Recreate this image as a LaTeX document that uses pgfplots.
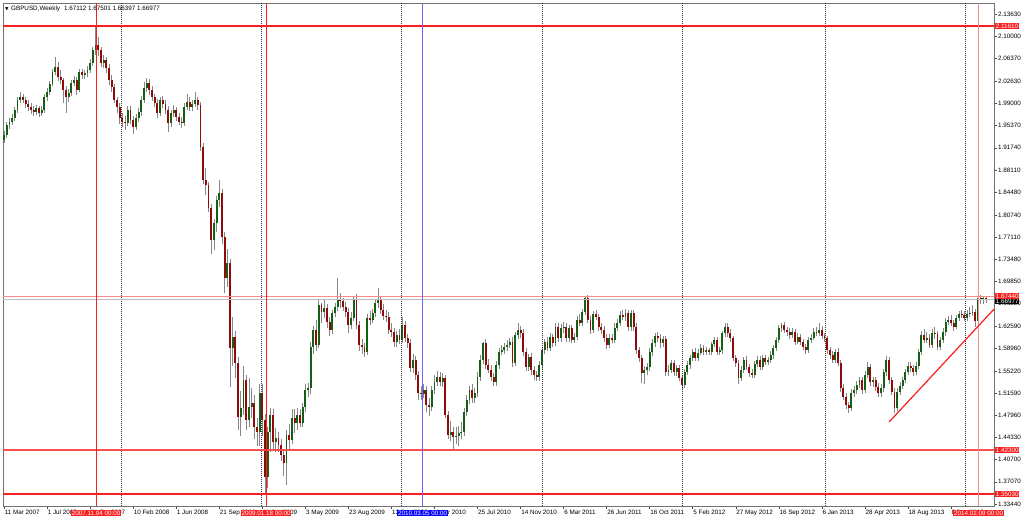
\documentclass[border=0pt]{standalone}
\usepackage{fontspec}
\setmainfont{Liberation Sans}
\newfontfamily\symfont{DejaVu Sans}
\usepackage{pgfplots}
\usepackage{pgfplotstable}
\pgfplotsset{compat=1.18}

\definecolor{upc}{RGB}{20,95,20}
\definecolor{dnc}{RGB}{145,10,10}
\definecolor{wickc}{RGB}{135,135,135}
\definecolor{hl}{RGB}{250,30,30}
\definecolor{hlmid}{RGB}{250,80,80}
\definecolor{hlsoft}{RGB}{250,140,140}
\definecolor{vblue}{RGB}{105,105,255}
\newcommand\cf{\fontsize{6.3}{7}\selectfont}

% GBPUSD weekly: week index, open, high, low, close
\pgfplotstableread{
w o h l c
0 1.930 1.945 1.925 1.938
1 1.938 1.960 1.934 1.955
2 1.955 1.966 1.948 1.960
3 1.960 1.972 1.954 1.966
4 1.966 1.984 1.961 1.979
5 1.979 2.001 1.975 1.996
6 1.996 2.008 1.990 2.000
7 2.000 2.006 1.990 1.996
8 1.996 2.001 1.983 1.989
9 1.989 1.995 1.977 1.984
10 1.984 1.990 1.972 1.979
11 1.979 1.986 1.970 1.976
12 1.976 1.988 1.971 1.982
13 1.982 1.986 1.968 1.974
14 1.974 1.985 1.969 1.979
15 1.979 2.005 1.975 2.000
16 2.000 2.015 1.994 2.009
17 2.009 2.027 2.003 2.022
18 2.022 2.046 2.018 2.041
19 2.041 2.066 2.036 2.050
20 2.050 2.058 2.027 2.033
21 2.033 2.044 2.022 2.028
22 2.028 2.032 1.990 2.012
23 2.012 2.018 1.975 2.000
24 2.000 2.013 1.993 2.007
25 2.007 2.029 2.002 2.023
26 2.023 2.035 2.018 2.028
27 2.028 2.033 2.003 2.012
28 2.012 2.046 2.008 2.041
29 2.041 2.047 2.030 2.037
30 2.037 2.045 2.030 2.040
31 2.040 2.051 2.034 2.045
32 2.045 2.062 2.040 2.056
33 2.056 2.082 2.051 2.077
34 2.077 2.116 2.070 2.086
35 2.086 2.098 2.068 2.077
36 2.077 2.083 2.050 2.056
37 2.056 2.070 2.048 2.061
38 2.061 2.066 2.040 2.048
39 2.048 2.055 2.020 2.028
40 2.028 2.036 2.008 2.017
41 2.017 2.022 1.990 1.996
42 1.996 2.000 1.975 1.984
43 1.984 1.990 1.956 1.966
44 1.966 1.975 1.952 1.960
45 1.960 1.969 1.947 1.958
46 1.958 1.985 1.953 1.979
47 1.979 1.985 1.956 1.963
48 1.963 1.970 1.940 1.951
49 1.951 1.972 1.946 1.966
50 1.966 1.982 1.960 1.976
51 1.976 2.002 1.970 1.996
52 1.996 2.025 1.990 2.015
53 2.015 2.032 2.008 2.023
54 2.023 2.030 2.004 2.012
55 2.012 2.018 1.994 2.000
56 2.000 2.006 1.984 1.991
57 1.991 1.997 1.966 1.974
58 1.974 2.001 1.969 1.996
59 1.996 2.002 1.982 1.989
60 1.989 1.995 1.972 1.979
61 1.979 1.985 1.944 1.958
62 1.958 1.980 1.952 1.974
63 1.974 1.987 1.968 1.979
64 1.979 1.984 1.962 1.968
65 1.968 1.975 1.954 1.960
66 1.960 1.968 1.950 1.958
67 1.958 1.990 1.953 1.984
68 1.984 2.005 1.979 1.992
69 1.992 2.000 1.978 1.984
70 1.984 1.995 1.977 1.989
71 1.989 2.008 1.984 1.996
72 1.996 2.000 1.980 1.987
73 1.987 1.992 1.912 1.919
74 1.919 1.925 1.858 1.865
75 1.865 1.885 1.840 1.856
76 1.856 1.862 1.812 1.819
77 1.819 1.825 1.744 1.766
78 1.766 1.800 1.750 1.794
79 1.794 1.838 1.780 1.832
80 1.832 1.865 1.820 1.843
81 1.843 1.850 1.760 1.771
82 1.771 1.780 1.680 1.704
83 1.704 1.752 1.690 1.729
84 1.729 1.736 1.526 1.590
85 1.590 1.640 1.560 1.608
86 1.608 1.618 1.540 1.565
87 1.565 1.575 1.455 1.477
88 1.477 1.520 1.445 1.492
89 1.492 1.560 1.480 1.537
90 1.537 1.545 1.455 1.472
91 1.472 1.540 1.460 1.493
92 1.493 1.525 1.475 1.500
93 1.500 1.512 1.440 1.460
94 1.460 1.475 1.430 1.452
95 1.452 1.530 1.430 1.516
96 1.516 1.530 1.445 1.472
97 1.472 1.482 1.350 1.379
98 1.379 1.460 1.360 1.452
99 1.452 1.492 1.420 1.480
100 1.480 1.490 1.425 1.436
101 1.436 1.458 1.420 1.442
102 1.442 1.452 1.420 1.431
103 1.431 1.440 1.405 1.415
104 1.415 1.425 1.380 1.402
105 1.402 1.455 1.366 1.447
106 1.447 1.465 1.425 1.439
107 1.439 1.490 1.432 1.475
108 1.475 1.490 1.450 1.467
109 1.467 1.492 1.455 1.480
110 1.480 1.490 1.460 1.467
111 1.467 1.500 1.460 1.493
112 1.493 1.530 1.485 1.521
113 1.521 1.532 1.510 1.524
114 1.524 1.600 1.515 1.591
115 1.591 1.626 1.580 1.619
116 1.619 1.636 1.585 1.595
117 1.595 1.668 1.590 1.660
118 1.660 1.663 1.630 1.649
119 1.649 1.668 1.638 1.655
120 1.655 1.662 1.622 1.632
121 1.632 1.640 1.610 1.619
122 1.619 1.652 1.612 1.647
123 1.647 1.664 1.640 1.657
124 1.657 1.704 1.650 1.668
125 1.668 1.680 1.655 1.666
126 1.666 1.672 1.650 1.657
127 1.657 1.665 1.640 1.649
128 1.649 1.655 1.615 1.627
129 1.627 1.648 1.620 1.639
130 1.639 1.675 1.634 1.668
131 1.668 1.678 1.620 1.627
132 1.627 1.634 1.585 1.595
133 1.595 1.604 1.580 1.591
134 1.591 1.598 1.575 1.583
135 1.583 1.645 1.578 1.639
136 1.639 1.650 1.628 1.636
137 1.636 1.654 1.630 1.647
138 1.647 1.670 1.640 1.663
139 1.663 1.688 1.655 1.668
140 1.668 1.675 1.645 1.652
141 1.652 1.662 1.635 1.642
142 1.642 1.652 1.632 1.641
143 1.641 1.648 1.612 1.619
144 1.619 1.630 1.608 1.616
145 1.616 1.622 1.592 1.600
146 1.600 1.618 1.592 1.611
147 1.611 1.620 1.596 1.603
148 1.603 1.640 1.598 1.627
149 1.627 1.634 1.600 1.606
150 1.606 1.612 1.590 1.598
151 1.598 1.605 1.550 1.557
152 1.557 1.580 1.548 1.570
153 1.570 1.576 1.538 1.546
154 1.546 1.552 1.505 1.516
155 1.516 1.528 1.505 1.514
156 1.514 1.530 1.508 1.521
157 1.521 1.528 1.485 1.496
158 1.496 1.508 1.478 1.493
159 1.493 1.528 1.486 1.521
160 1.521 1.545 1.515 1.534
161 1.534 1.552 1.528 1.542
162 1.542 1.550 1.528 1.534
163 1.534 1.548 1.526 1.541
164 1.541 1.546 1.475 1.480
165 1.480 1.486 1.440 1.447
166 1.447 1.470 1.437 1.452
167 1.452 1.460 1.423 1.444
168 1.444 1.460 1.432 1.446
169 1.446 1.462 1.430 1.451
170 1.451 1.468 1.440 1.452
171 1.452 1.492 1.446 1.485
172 1.485 1.512 1.478 1.505
173 1.505 1.528 1.498 1.521
174 1.521 1.530 1.500 1.508
175 1.508 1.524 1.500 1.516
176 1.516 1.550 1.510 1.542
177 1.542 1.578 1.535 1.570
178 1.570 1.600 1.564 1.598
179 1.598 1.604 1.555 1.562
180 1.562 1.572 1.548 1.554
181 1.554 1.562 1.536 1.542
182 1.542 1.548 1.528 1.534
183 1.534 1.568 1.528 1.562
184 1.562 1.590 1.556 1.583
185 1.583 1.594 1.578 1.586
186 1.586 1.598 1.580 1.591
187 1.591 1.602 1.584 1.595
188 1.595 1.606 1.590 1.600
189 1.600 1.608 1.558 1.565
190 1.565 1.616 1.560 1.611
191 1.611 1.630 1.605 1.619
192 1.619 1.625 1.606 1.614
193 1.614 1.620 1.576 1.583
194 1.583 1.590 1.552 1.559
195 1.559 1.580 1.552 1.575
196 1.575 1.582 1.546 1.554
197 1.554 1.560 1.538 1.546
198 1.546 1.552 1.536 1.542
199 1.542 1.568 1.536 1.562
200 1.562 1.592 1.556 1.586
201 1.586 1.605 1.580 1.600
202 1.600 1.608 1.584 1.590
203 1.590 1.614 1.585 1.608
204 1.608 1.612 1.592 1.598
205 1.598 1.630 1.593 1.624
206 1.624 1.630 1.600 1.606
207 1.606 1.629 1.600 1.623
208 1.623 1.632 1.614 1.624
209 1.624 1.630 1.600 1.606
210 1.606 1.628 1.600 1.623
211 1.623 1.628 1.598 1.603
212 1.603 1.614 1.598 1.608
213 1.608 1.642 1.602 1.636
214 1.636 1.645 1.626 1.631
215 1.631 1.654 1.626 1.649
216 1.649 1.674 1.643 1.672
217 1.672 1.676 1.630 1.636
218 1.636 1.642 1.612 1.619
219 1.619 1.650 1.614 1.645
220 1.645 1.652 1.636 1.641
221 1.641 1.646 1.618 1.624
222 1.624 1.630 1.612 1.619
223 1.619 1.625 1.600 1.606
224 1.606 1.612 1.588 1.595
225 1.595 1.612 1.590 1.606
226 1.606 1.612 1.598 1.603
227 1.603 1.630 1.598 1.623
228 1.623 1.637 1.618 1.631
229 1.631 1.650 1.626 1.644
230 1.644 1.652 1.636 1.641
231 1.641 1.654 1.634 1.647
232 1.647 1.652 1.618 1.624
233 1.624 1.652 1.618 1.647
234 1.647 1.652 1.618 1.624
235 1.624 1.630 1.580 1.586
236 1.586 1.592 1.566 1.573
237 1.573 1.578 1.532 1.549
238 1.549 1.560 1.530 1.554
239 1.554 1.565 1.545 1.559
240 1.559 1.590 1.552 1.583
241 1.583 1.604 1.576 1.598
242 1.598 1.614 1.592 1.609
243 1.609 1.616 1.600 1.606
244 1.606 1.612 1.590 1.598
245 1.598 1.610 1.592 1.604
246 1.604 1.610 1.544 1.550
247 1.550 1.562 1.544 1.554
248 1.554 1.570 1.548 1.565
249 1.565 1.570 1.544 1.550
250 1.550 1.562 1.544 1.557
251 1.557 1.562 1.535 1.541
252 1.541 1.546 1.521 1.529
253 1.529 1.556 1.524 1.550
254 1.550 1.568 1.545 1.562
255 1.562 1.578 1.556 1.573
256 1.573 1.588 1.568 1.583
257 1.583 1.590 1.568 1.573
258 1.573 1.588 1.568 1.582
259 1.582 1.596 1.578 1.590
260 1.590 1.594 1.578 1.583
261 1.583 1.592 1.578 1.586
262 1.586 1.590 1.578 1.583
263 1.583 1.600 1.578 1.596
264 1.596 1.608 1.592 1.603
265 1.603 1.608 1.578 1.583
266 1.583 1.592 1.578 1.586
267 1.586 1.618 1.580 1.614
268 1.614 1.630 1.608 1.624
269 1.624 1.630 1.608 1.614
270 1.614 1.620 1.600 1.606
271 1.606 1.610 1.568 1.573
272 1.573 1.578 1.558 1.565
273 1.565 1.570 1.530 1.541
274 1.541 1.560 1.536 1.554
275 1.554 1.575 1.548 1.570
276 1.570 1.576 1.554 1.559
277 1.559 1.564 1.543 1.549
278 1.549 1.555 1.540 1.546
279 1.546 1.568 1.540 1.564
280 1.564 1.576 1.558 1.570
281 1.570 1.576 1.553 1.559
282 1.559 1.578 1.554 1.573
283 1.573 1.578 1.562 1.567
284 1.567 1.575 1.562 1.570
285 1.570 1.584 1.565 1.578
286 1.578 1.594 1.572 1.590
287 1.590 1.608 1.585 1.603
288 1.603 1.627 1.598 1.623
289 1.623 1.631 1.616 1.627
290 1.627 1.632 1.614 1.619
291 1.619 1.624 1.610 1.616
292 1.616 1.622 1.605 1.611
293 1.611 1.622 1.606 1.616
294 1.616 1.620 1.594 1.600
295 1.600 1.614 1.596 1.608
296 1.608 1.612 1.595 1.600
297 1.600 1.605 1.586 1.591
298 1.591 1.596 1.580 1.586
299 1.586 1.608 1.582 1.603
300 1.603 1.612 1.598 1.606
301 1.606 1.622 1.602 1.616
302 1.616 1.624 1.610 1.614
303 1.614 1.630 1.610 1.619
304 1.619 1.625 1.604 1.609
305 1.609 1.614 1.600 1.606
306 1.606 1.610 1.580 1.586
307 1.586 1.592 1.572 1.578
308 1.578 1.584 1.565 1.570
309 1.570 1.588 1.565 1.583
310 1.583 1.590 1.560 1.565
311 1.565 1.570 1.518 1.524
312 1.524 1.530 1.505 1.510
313 1.510 1.516 1.490 1.496
314 1.496 1.502 1.483 1.492
315 1.492 1.522 1.486 1.516
316 1.516 1.528 1.510 1.521
317 1.521 1.535 1.515 1.529
318 1.529 1.542 1.524 1.537
319 1.537 1.543 1.515 1.521
320 1.521 1.552 1.516 1.546
321 1.546 1.566 1.540 1.559
322 1.559 1.563 1.528 1.534
323 1.534 1.542 1.526 1.537
324 1.537 1.542 1.520 1.526
325 1.526 1.532 1.510 1.516
326 1.516 1.530 1.510 1.524
327 1.524 1.556 1.518 1.550
328 1.550 1.576 1.544 1.570
329 1.570 1.575 1.530 1.537
330 1.537 1.542 1.512 1.518
331 1.518 1.524 1.483 1.492
332 1.492 1.524 1.486 1.518
333 1.518 1.534 1.512 1.528
334 1.528 1.542 1.522 1.537
335 1.537 1.556 1.532 1.550
336 1.550 1.566 1.545 1.560
337 1.560 1.566 1.550 1.557
338 1.557 1.562 1.544 1.550
339 1.550 1.566 1.545 1.560
340 1.560 1.588 1.555 1.583
341 1.583 1.618 1.578 1.611
342 1.611 1.620 1.598 1.603
343 1.603 1.616 1.598 1.606
344 1.606 1.612 1.590 1.595
345 1.595 1.620 1.590 1.614
346 1.614 1.624 1.605 1.613
347 1.613 1.618 1.586 1.591
348 1.591 1.608 1.586 1.603
349 1.603 1.622 1.598 1.616
350 1.616 1.638 1.610 1.632
351 1.632 1.642 1.628 1.636
352 1.636 1.644 1.626 1.631
353 1.631 1.636 1.618 1.624
354 1.624 1.644 1.620 1.639
355 1.639 1.650 1.634 1.645
356 1.645 1.652 1.638 1.644
357 1.644 1.650 1.634 1.639
358 1.639 1.652 1.634 1.645
359 1.645 1.656 1.640 1.647
360 1.647 1.660 1.642 1.649
361 1.649 1.654 1.624 1.634
362 1.634 1.676 1.630 1.672
363 1.672 1.676 1.662 1.668
364 1.668 1.675 1.662 1.671
365 1.671 1.675 1.664 1.670
}\gbp

\begin{document}
\begin{tikzpicture}
\begin{axis}[
  name=main,
  scale only axis, width=991pt, height=503pt,
  xmin=-0.4, xmax=368, ymin=1.3311, ymax=2.1543,
  clip mode=individual,
  axis line style={draw=black!55, line width=0.9pt},
  tick style={black!70, line width=0.5pt},
  tick align=outside, major tick length=3pt,
  xtick pos=bottom, ytick pos=right, yticklabel pos=right,
  xtick={0,16,...,352},
  xticklabels={11 Mar 2007, 1 Jul 2007, 21 Oct 2007, 10 Feb 2008, 1 Jun 2008, 21 Sep 2008, 11 Jan 2009, 3 May 2009, 23 Aug 2009, 13 Dec 2009, 4 Apr 2010, 25 Jul 2010, 14 Nov 2010, 6 Mar 2011, 26 Jun 2011, 16 Oct 2011, 5 Feb 2012, 27 May 2012, 16 Sep 2012, 6 Jan 2013, 28 Apr 2013, 18 Aug 2013, 8 Dec 2013},
  xticklabel style={font=\cf, anchor=north west, inner sep=0pt, xshift=0.5pt, yshift=-1pt},
  ytick={1.33440,1.37070,1.40700,1.44330,1.47960,1.51590,1.55220,1.58960,1.62590,1.66220,1.69850,1.73480,1.77110,1.80740,1.84480,1.88110,1.91740,1.95370,1.99000,2.02630,2.06370,2.10000,2.13630},
  yticklabel style={font=\cf, inner sep=0pt, xshift=1pt,
    /pgf/number format/.cd, fixed, fixed zerofill, precision=5, assume math mode=true},
  scaled y ticks=false,
]
% wicks
\addplot [draw=none, mark=none, forget plot,
  error bars/.cd, y dir=plus, y explicit, error mark=none,
  error bar style={draw=wickc, line width=0.7pt}]
  table [x=w, y=l, y error expr={\thisrow{h}-\thisrow{l}}] {\gbp};
% bullish bodies
\addplot [draw=none, mark=none, forget plot,
  error bars/.cd, y dir=plus, y explicit, error mark=none,
  error bar style={draw=upc, line width=1.9pt}]
  table [x=w, y expr={\thisrow{c}>=\thisrow{o} ? \thisrow{o} : nan},
         y error expr={\thisrow{c}-\thisrow{o}}] {\gbp};
% bearish bodies
\addplot [draw=none, mark=none, forget plot,
  error bars/.cd, y dir=plus, y explicit, error mark=none,
  error bar style={draw=dnc, line width=1.9pt}]
  table [x=w, y expr={\thisrow{c}<\thisrow{o} ? \thisrow{c} : nan},
         y error expr={\thisrow{o}-\thisrow{c}}] {\gbp};

% year separators
\foreach \s in {43.5,95.5,147.6,200,252,305.2,357.2}{
  \edef\tmp{\noexpand\addplot [black!80, line width=0.6pt, dash pattern=on 1pt off 1pt, forget plot] coordinates {(\s,1.3311) (\s,2.1543)};}
  \tmp
}
% horizontal levels
\addplot [draw=hl, line width=1.8pt] coordinates {(-0.4,2.1161) (368,2.1161)};
\addplot [draw=black!25, line width=0.8pt] coordinates {(-0.4,1.66977) (368,1.66977)};
\addplot [draw=hlsoft, line width=1.3pt] coordinates {(-0.4,1.6744) (368,1.6744)};
\addplot [draw=hlmid, line width=1.3pt] coordinates {(-0.4,1.4230) (368,1.4230)};
\addplot [draw=hl, line width=1.8pt] coordinates {(-0.4,1.3503) (368,1.3503)};
% vertical markers
\addplot [draw=hl, line width=0.9pt] coordinates {(34.2,1.3311) (34.2,2.1543)};
\addplot [draw=hl, line width=0.9pt] coordinates {(97.4,1.3311) (97.4,2.1543)};
\addplot [draw=vblue, line width=1.4pt] coordinates {(155.6,1.3311) (155.6,2.1543)};
\addplot [draw=hlsoft, line width=1.1pt] coordinates {(362.3,1.3311) (362.3,2.1543)};
% trend line
\addplot [draw=hl, line width=1.2pt] coordinates {(329.0,1.4686) (368,1.6533)};

\coordinate (O) at (rel axis cs:0,0);
\coordinate (yA) at (axis cs:368,2.1161);
\coordinate (yB) at (axis cs:368,1.66977);
\coordinate (yC) at (axis cs:368,1.6744);
\coordinate (yD) at (axis cs:368,1.4230);
\coordinate (yE) at (axis cs:368,1.3503);
\coordinate (xA) at (axis cs:34.2,1.3311);
\coordinate (xB) at (axis cs:97.4,1.3311);
\coordinate (xC) at (axis cs:155.6,1.3311);
\coordinate (xD) at (axis cs:362.3,1.3311);
\end{axis}

\begin{scope}[every node/.style={font=\cf, inner xsep=0.7pt, inner ysep=0.9pt, text=white}]
\node[fill=hl, anchor=west, xshift=1pt] at (yA) {2.11610};
\node[fill=black, anchor=west, xshift=1pt, yshift=-2pt] at (yB) {1.66977};
\node[fill=hl, anchor=west, xshift=1pt] at (yC) {1.67440};
\node[fill=hl, anchor=west, xshift=1pt] at (yD) {1.42300};
\node[fill=hl, anchor=west, xshift=1pt] at (yE) {1.35030};
\node[fill=hl, yshift=-7pt] at (xA) {2007.11.04 00:00};
\node[fill=hl, yshift=-7pt] at (xB) {2009.01.18 00:00};
\node[fill=blue, yshift=-7pt] at (xC) {2010.03.05 00:00};
\node[fill=hl, yshift=-7pt] at (xD) {2014.02.09 00:00};
\end{scope}

\node[anchor=west, font=\cf, inner sep=0pt] at ([shift={(2pt,497pt)}]O)
  {{\symfont\fontsize{4.5}{5}\selectfont▼}\hspace{2.5pt}GBPUSD,Weekly\hspace{4pt}1.67112 1.67501 1.66397 1.66977};

\pgfresetboundingbox
\path[use as bounding box] ([shift={(-3pt,-14pt)}]O) rectangle ([shift={(1021pt,506pt)}]O);
\end{tikzpicture}
\end{document}
